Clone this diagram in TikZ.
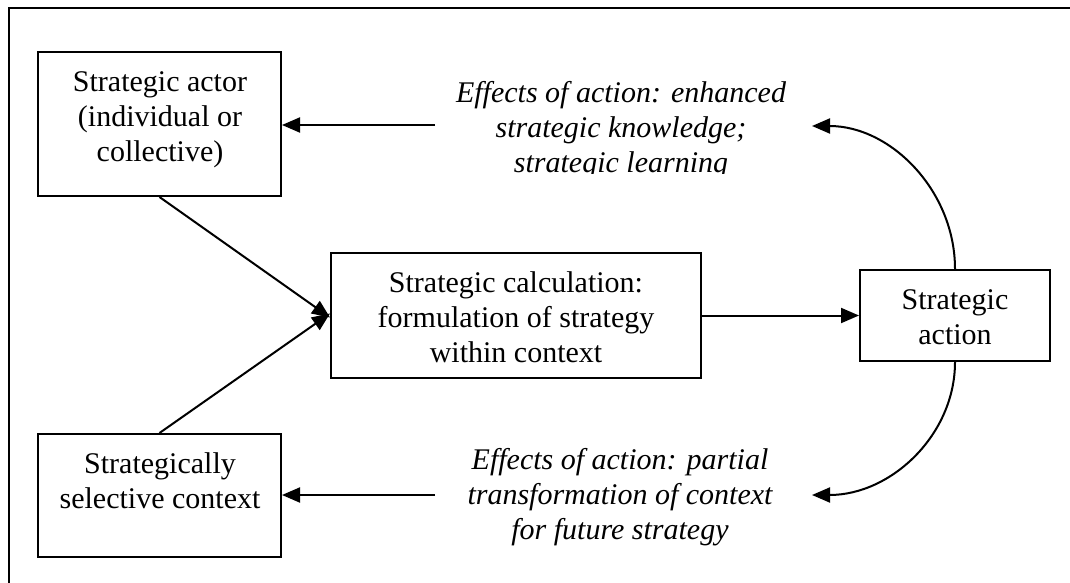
\documentclass[tikz,border=0pt]{standalone}
\usepackage{fontspec}
\setmainfont{Liberation Serif}
\usetikzlibrary{arrows.meta}
\begin{document}
\begin{tikzpicture}[x=1pt,y=-1pt,
  box/.style={draw,line width=2pt,inner sep=0pt},
  txt/.style={align=center,font=\fontsize{30}{35}\selectfont,inner sep=0pt},
  itxt/.style={align=center,font=\fontsize{30}{35}\selectfont\itshape,inner sep=0pt},
  conn/.style={line width=2pt,-{Triangle[length=18pt,width=15pt]}}]
\useasboundingbox (0,0) rectangle (1070,583);
% outer frame (top and left edges visible)
\draw[line width=2pt] (9,583) -- (9,8) -- (1070,8);
% boxes
\node[box,minimum width=243pt,minimum height=144pt] (actor) at (159.5,124) {};
\node[txt] (actortxt) at (160,120) {Strategic actor\\(individual or\\collective)};
\node[box,minimum width=243pt,minimum height=123pt] (context) at (159.5,495.5) {};
\node[txt] (contexttxt) at (160,481) {Strategically\\selective context};
\node[box,minimum width=370pt,minimum height=125pt] (calc) at (516,315.5) {};
\node[txt] (calctxt) at (516,317) {Strategic calculation:\\formulation of strategy\\within context};
\node[box,minimum width=190pt,minimum height=91pt] (action) at (955,315.5) {};
\node[txt] (actiontxt) at (955,317) {Strategic\\action};
% italic labels
\begin{scope}
\clip (400,60) rectangle (850,173);
\node[itxt] (fx1) at (621,130) {Effects of action: enhanced\\strategic knowledge;\\strategic learning};
\end{scope}
\node[itxt] (fx2) at (620,497) {Effects of action: partial\\transformation of context\\for future strategy};
% connectors
\coordinate (t1) at (435,125);
\coordinate (t2) at (435,495);
\coordinate (c1) at (812,126);
\coordinate (c2) at (812,495);
\draw[conn] (t1) -- (actor.east |- t1);
\draw[conn] (t2) -- (context.east |- t2);
\draw[conn] (actor.south) -- ([yshift=-2pt]calc.west);
\draw[conn] (context.north) -- ([yshift=2pt]calc.west);
\draw[conn] (calc.east) -- (action.west);
\draw[conn] (action.north) .. controls (955,191) and (891,126) .. (c1);
\draw[conn] (action.south) .. controls (955,435) and (891,495) .. (c2);
\end{tikzpicture}
\end{document}
